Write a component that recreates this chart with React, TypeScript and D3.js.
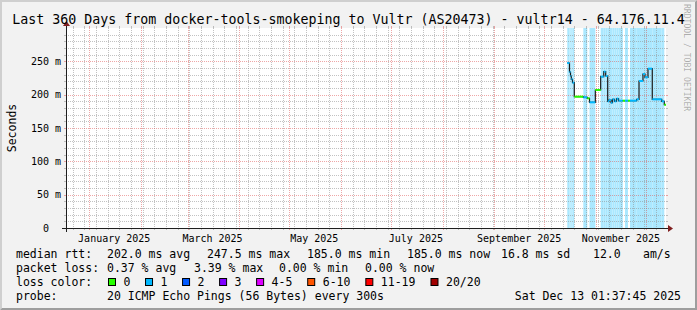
import React from 'react';
import * as d3 from 'd3';

const WIDTH = 697;
const HEIGHT = 310;

const rangeStart = '2024-12-18T01:37:45';
const rangeEnd = '2025-12-13T01:37:45';

const yTickValues = [0, 50, 100, 150, 200, 250];
const yTickLabels = ['0  ', '50 m', '100 m', '150 m', '200 m', '250 m'];
const monthLabelStarts = ['2025-01-01T00:00', '2025-03-01T00:00', '2025-05-01T00:00', '2025-07-01T00:00', '2025-09-01T00:00', '2025-11-01T00:00'];
const monthLabels = ['January 2025', 'March 2025', 'May 2025', 'July 2025', 'September 2025', 'November 2025'];

const medianTimes = [
  '2025-10-14T20:00', '2025-10-16T04:00', '2025-10-16T18:30', '2025-10-17T06:00', '2025-10-17T23:00',
  '2025-10-19T01:00', '2025-10-24T11:00', '2025-10-26T20:00', '2025-10-28T04:00', '2025-10-31T16:00',
  '2025-11-03T21:00', '2025-11-05T17:00', '2025-11-06T21:00', '2025-11-08T02:00', '2025-11-08T21:00',
  '2025-11-10T02:00', '2025-11-10T23:00', '2025-11-12T04:00', '2025-11-13T09:00', '2025-11-14T14:00',
  '2025-11-17T04:00', '2025-11-18T11:00', '2025-11-20T06:00', '2025-11-21T11:00', '2025-11-25T12:00',
  '2025-11-26T21:00', '2025-11-29T06:00', '2025-11-30T11:00', '2025-12-02T06:00', '2025-12-04T20:00',
  '2025-12-10T12:00', '2025-12-12T01:00',
];
const medianMs = [
  247.5, 234, 228, 223, 218,
  197, 196, 194.5, 188.5, 207,
  227, 234.5, 228, 190, 192,
  188, 193, 190, 194, 191,
  191, 191, 191, 191, 193,
  220.5, 231, 226, 239, 193,
  190, 185,
];
const lossCategory = [
  1, 1, 1, 1, 1,
  0, 1, 0, 1, 0,
  1, 1, 1, 1, 1,
  1, 1, 1, 1, 1,
  0, 1, 0, 1, 1,
  1, 1, 1, 1, 1,
  1, 0,
];

const lossColors = ['#26ff00', '#00b8ff', '#0059ff', '#7e00ff', '#dd00ff', '#ff5500', '#ff0000', '#a00000'];
const lossLabels = ['0', '1', '2', '3', '4-5', '6-10', '11-19', '20/20'];

const titleText = 'Last 360 Days from docker-tools-smokeping to Vultr (AS20473) - vultr14 - 64.176.11.4';
const rttLabel = 'median rtt:';
const rttStats = ['202.0 ms avg', '247.5 ms max', '185.0 ms min', '185.0 ms now', '16.8 ms sd', '12.0', 'am/s'];
const lossLabel = 'packet loss:';
const lossStats = ['0.37 % avg', '3.39 % max', '0.00 % min', '0.00 % now'];
const probeLabel = 'probe:';
const probeText = '20 ICMP Echo Pings (56 Bytes) every 300s';
const stampText = 'Sat Dec 13 01:37:45 2025';

const MONO = '"DejaVu Sans Mono", "Liberation Mono", monospace';

export default function App() {
  const x0 = 66, x1 = 666, yTop = 28, yBot = 228;
  const start = new Date(rangeStart);
  const end = new Date(rangeEnd);
  const x = d3.scaleTime().domain([start, end]).range([x0, x1]);
  const y = d3.scaleLinear().domain([0, 300]).range([yBot, yTop]);
  const px = (v: number) => Math.round(v) + 0.5;

  const GRID = 'rgba(143,143,143,0.55)';
  const MGRID = 'rgba(222,79,79,0.5)';

  const months = d3.timeMonth.range(start, end);
  const monthKeys = new Set(months.map((m) => +d3.timeDay.floor(m)));
  const weeks = d3.timeSunday.range(start, end).filter((w) => !monthKeys.has(+w));
  const minorY = d3.range(10, 300, 10).filter((v) => v % 50 !== 0);
  const majorY = yTickValues.filter((v) => v > 0);

  const times = medianTimes.map((t) => new Date(t));
  const segs = times.map((t, i) => ({
    t0: t,
    t1: i + 1 < times.length ? times[i + 1] : end,
    v: medianMs[i],
    c: lossCategory[i],
  }));
  const stepPts: [Date, number][] = segs.map((s) => [s.t0, s.v] as [Date, number]);
  stepPts.push([end, medianMs[medianMs.length - 1]]);
  const stepLine = d3
    .line<[Date, number]>()
    .x((d) => x(d[0]))
    .y((d) => y(d[1]))
    .curve(d3.curveStepAfter);

  const bgColor = (c: number) => d3.interpolateRgb('#ffffff', lossColors[c])(0.33);

  let lx = 108;
  const lossItems = lossLabels.map((lab, i) => {
    const item = { bx: lx, tx: lx + 15.5, lab, col: lossColors[i] };
    lx = item.tx + lab.length * 7.03 + 14.5;
    return item;
  });

  const line1X = [107, 207, 307, 407, 501, 593, 643];
  const line2X = [107, 194, 279, 365];

  return (
    <svg
      width={WIDTH}
      height={HEIGHT}
      style={{ position: 'absolute', left: 0, top: 0 }}
      fontFamily={MONO}
    >
      <rect x={0} y={0} width={WIDTH} height={HEIGHT} fill="#f2f2f2" />
      <polygon points={`0,0 ${WIDTH},0 ${WIDTH - 2},2 2,2 2,${HEIGHT - 2} 0,${HEIGHT}`} fill="#cfcfcf" />
      <polygon
        points={`0,${HEIGHT} ${WIDTH},${HEIGHT} ${WIDTH},0 ${WIDTH - 2},2 ${WIDTH - 2},${HEIGHT - 2} 2,${HEIGHT - 2}`}
        fill="#9e9e9e"
      />
      <rect x={x0} y={yTop} width={x1 - x0} height={yBot - yTop} fill="#ffffff" />

      {segs
        .filter((s) => s.c > 0)
        .map((s, i) => (
          <rect
            key={'bg' + i}
            x={x(s.t0)}
            y={yTop}
            width={x(s.t1) - x(s.t0)}
            height={yBot - yTop}
            fill={bgColor(s.c)}
          />
        ))}

      <g shapeRendering="crispEdges">
        {minorY.map((v) => (
          <g key={'my' + v}>
            <line x1={x0} x2={x1} y1={px(y(v))} y2={px(y(v))} stroke={GRID} strokeDasharray="1,1" />
            <line x1={x0 - 2} x2={x0} y1={px(y(v))} y2={px(y(v))} stroke={GRID} />
            <line x1={x1} x2={x1 + 2} y1={px(y(v))} y2={px(y(v))} stroke={GRID} />
          </g>
        ))}
        {weeks.map((w) => (
          <g key={'wk' + +w}>
            <line x1={px(x(w))} x2={px(x(w))} y1={yTop} y2={yBot} stroke={GRID} strokeDasharray="1,1" />
            <line x1={px(x(w))} x2={px(x(w))} y1={yTop - 2} y2={yTop} stroke={GRID} />
            <line x1={px(x(w))} x2={px(x(w))} y1={yBot} y2={yBot + 2} stroke={GRID} />
          </g>
        ))}
        {majorY.map((v) => (
          <g key={'My' + v}>
            <line x1={x0} x2={x1} y1={px(y(v))} y2={px(y(v))} stroke={MGRID} strokeDasharray="1,1" />
            <line x1={x0 - 2} x2={x0} y1={px(y(v))} y2={px(y(v))} stroke={MGRID} />
            <line x1={x1} x2={x1 + 2} y1={px(y(v))} y2={px(y(v))} stroke={MGRID} />
          </g>
        ))}
        {months.map((m) => (
          <g key={'mo' + +m}>
            <line x1={px(x(m))} x2={px(x(m))} y1={yTop} y2={yBot} stroke={MGRID} strokeDasharray="1,1" />
            <line x1={px(x(m))} x2={px(x(m))} y1={yTop - 2} y2={yTop} stroke={MGRID} />
            <line x1={px(x(m))} x2={px(x(m))} y1={yBot} y2={yBot + 2} stroke={MGRID} />
          </g>
        ))}
      </g>

      <path d={stepLine(stepPts) || ''} fill="none" stroke="#1a1a1a" strokeWidth={1.2} />
      {segs.map((s, i) => (
        <line
          key={'seg' + i}
          x1={x(s.t0)}
          x2={x(s.t1)}
          y1={y(s.v)}
          y2={y(s.v)}
          stroke={lossColors[s.c]}
          strokeWidth={2}
        />
      ))}

      <g shapeRendering="crispEdges">
        <line x1={x0 - 4} x2={x1 + 4} y1={yBot + 0.5} y2={yBot + 0.5} stroke="#1f1f1f" />
        <line x1={x0 + 0.5} x2={x0 + 0.5} y1={yBot + 4} y2={yTop - 4} stroke="#1f1f1f" />
      </g>
      <polygon
        points={`${x1 + 2},${yBot - 3} ${x1 + 2},${yBot + 4} ${x1 + 7},${yBot + 0.5}`}
        fill="#801f1f"
      />
      <polygon
        points={`${x0 - 3},${yTop - 2} ${x0 + 4},${yTop - 2} ${x0 + 0.5},${yTop - 7}`}
        fill="#801f1f"
      />

      {yTickValues.map((v, i) => (
        <text
          key={'yl' + v}
          x={61}
          y={y(v) + 3.6}
          fontSize={10}
          textAnchor="end"
          style={{ whiteSpace: 'pre' }}
          fill="#000"
        >
          {yTickLabels[i]}
        </text>
      ))}

      {monthLabelStarts.map((m, i) => (
        <text
          key={'xl' + m}
          x={x(d3.timeDay.offset(new Date(m), 15))}
          y={241.5}
          fontSize={10}
          textAnchor="middle"
          fill="#000"
        >
          {monthLabels[i]}
        </text>
      ))}

      <text x={WIDTH / 2} y={24} fontSize={13.3} textAnchor="middle" fill="#000">
        {titleText}
      </text>
      <text
        transform={`translate(15.5,${(yTop + yBot) / 2}) rotate(-90)`}
        fontSize={11.5}
        textAnchor="middle"
        fill="#000"
      >
        Seconds
      </text>
      <text
        transform={`translate(684,4) rotate(90)`}
        fontSize={8.1}
        textAnchor="start"
        fill="rgba(0,0,0,0.3)"
      >
        RRDTOOL / TOBI OETIKER
      </text>

      <g fontSize={11.5} fill="#000">
        <text x={16} y={257.5}>{rttLabel}</text>
        {rttStats.map((s, i) => (
          <text key={'r' + i} x={line1X[i]} y={257.5}>{s}</text>
        ))}
        <text x={16} y={271.5}>{lossLabel}</text>
        {lossStats.map((s, i) => (
          <text key={'l' + i} x={line2X[i]} y={271.5}>{s}</text>
        ))}
        <text x={16} y={285.5}>loss color:</text>
        {lossItems.map((it) => (
          <g key={'lc' + it.lab}>
            <rect x={it.bx + 0.5} y={278.5} width={7} height={7} fill={it.col} stroke="#000" strokeWidth={1} />
            <text x={it.tx} y={285.5}>{it.lab}</text>
          </g>
        ))}
        <text x={16} y={299.5}>{probeLabel}</text>
        <text x={107} y={299.5}>{probeText}</text>
        <text x={681} y={299.5} textAnchor="end">{stampText}</text>
      </g>
    </svg>
  );
}
